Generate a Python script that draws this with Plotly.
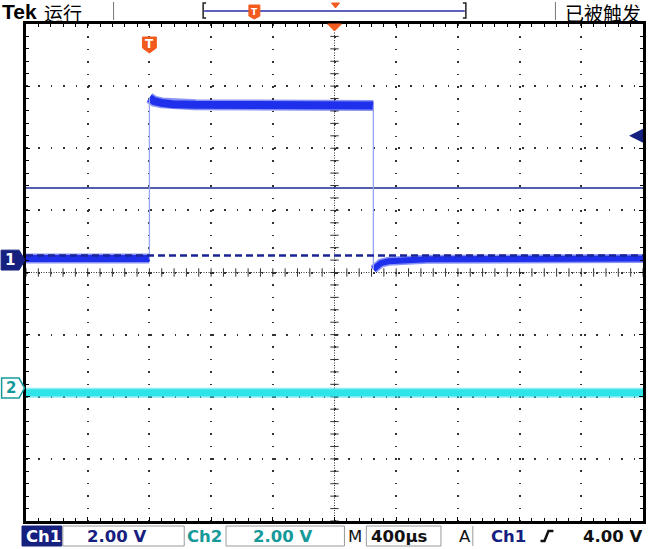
import plotly.graph_objects as go

ch1_scale = 2.0      # V/div
ch2_scale = 2.0      # V/div
ch1_pos = 0.2        # div (ground marker position)
ch2_pos = -1.86      # div
time_per_div = 400   # µs/div
x_range = [-800, 3200]   # µs, trigger at 0
center_time = 1200

ch1_low_left_t = [-800, 0]
ch1_low_left_v = [0.05, 0.05]
ch1_high_t = [0, 30, 80, 150, 300, 1452]
ch1_high_v = [5.22, 5.12, 5.06, 5.02, 5.0, 4.98]
ch1_low_right_t = [1452, 1470, 1500, 1550, 1650, 1800, 3200]
ch1_low_right_v = [-0.3, -0.2, -0.1, -0.04, 0.0, 0.03, 0.05]
ch1_ref_level_v = 0.15     # dashed reference line
ch1_cursor_v = 2.32        # solid horizontal line
trigger_level_v = 4.00

ch2_t = [-800, 3200]
ch2_v = [-0.15, -0.15]

labels = {"ch1": "Ch1", "ch2": "Ch2", "v1": "2.00 V", "v2": "2.00 V",
          "m": "M", "tb": "400µs", "a": "A", "src": "Ch1", "lvl": "4.00 V",
          "tek": "Tek", "run": "运行", "trig": "已被触发"}

# ---------------- helpers ----------------
W, H = 650, 549
L, R, T, B = 26, 4, 24, 28
PW, PH = W - L - R, H - T - B


def X(px):
    return (px - L) / PW


def Y(py):
    return (H - B - py) / PH


def d1(v):
    return ch1_pos + v / ch1_scale


def d2(v):
    return ch2_pos + v / ch2_scale


BLUE = "#1f30ec"
BLUE_SOFT = "rgba(40,60,235,0.55)"
NAVY = "#16207e"
CYAN = "#2ee4e8"
CYAN_SOFT = "rgba(50,225,232,0.55)"
TEAL = "#16999a"
ORANGE = "#f25a1e"

fig = go.Figure()


def thick(t, v, col, soft, w):
    fig.add_trace(go.Scatter(x=t, y=v, mode="lines", line=dict(color=soft, width=w + 3),
                             hoverinfo="skip"))
    fig.add_trace(go.Scatter(x=t, y=v, mode="lines", line=dict(color=col, width=w),
                             hoverinfo="skip"))


# center cross lines with ticks
sub_t = [x_range[0] + i * time_per_div / 5 for i in range(51)]
sub_y = [-4 + i * 0.2 for i in range(41)]
fig.add_trace(go.Scatter(x=sub_t, y=[0] * len(sub_t), mode="markers",
                         marker=dict(symbol="line-ns-open", size=6, color="#333",
                                     line=dict(width=1, color="#333")),
                         hoverinfo="skip"))
fig.add_trace(go.Scatter(x=[center_time] * len(sub_y), y=sub_y, mode="markers",
                         marker=dict(symbol="line-ew-open", size=6, color="#333",
                                     line=dict(width=1, color="#333")),
                         hoverinfo="skip"))

# horizontal reference line
fig.add_trace(go.Scatter(x=x_range, y=[d1(ch1_cursor_v)] * 2, mode="lines",
                         line=dict(color="#1b2a8f", width=1.5), hoverinfo="skip"))

# Ch2
thick(ch2_t, [d2(v) for v in ch2_v], CYAN, CYAN_SOFT, 7)

# Ch1
thick(ch1_low_left_t, [d1(v) for v in ch1_low_left_v], BLUE, BLUE_SOFT, 7)
thick(ch1_high_t, [d1(v) for v in ch1_high_v], BLUE, BLUE_SOFT, 8)
thick(ch1_low_right_t, [d1(v) for v in ch1_low_right_v], BLUE, BLUE_SOFT, 6)
fig.add_trace(go.Scatter(x=[ch1_high_t[0]] * 2, y=[d1(ch1_low_left_v[-1]), d1(ch1_high_v[0])],
                         mode="lines", line=dict(color="#98a2f4", width=1.3), hoverinfo="skip"))
fig.add_trace(go.Scatter(x=[ch1_high_t[-1]] * 2, y=[d1(ch1_high_v[-1]), d1(ch1_low_right_v[0])],
                         mode="lines", line=dict(color="#98a2f4", width=1.3), hoverinfo="skip"))

fig.add_trace(go.Scatter(x=x_range, y=[d1(ch1_ref_level_v)] * 2, mode="lines",
                         line=dict(color="#1a2396", width=2.5, dash="7px,4px"), hoverinfo="skip"))

shapes = []
ann = []

# center dotted lines
shapes.append(dict(type="line", xref="x", yref="paper", x0=center_time, x1=center_time, y0=0, y1=1,
                   line=dict(color="#333", width=1, dash="1px,1.5px"), layer="below"))
shapes.append(dict(type="line", xref="paper", yref="y", x0=0, x1=1, y0=0, y1=0,
                   line=dict(color="#333", width=1, dash="1px,1.5px"), layer="below"))
# thick left border
shapes.append(dict(type="line", xref="paper", yref="paper", x0=X(24.5), x1=X(24.5), y0=Y(522), y1=Y(22),
                   line=dict(color="black", width=3)))

# trigger level arrow (right edge)
ann.append(dict(xref="paper", yref="y", x=X(632), y=d1(trigger_level_v), ax=13, ay=0, text="",
                showarrow=True, arrowhead=2, arrowsize=0.8, arrowwidth=3.5, arrowcolor=NAVY))

# channel markers on the left
y1c = ch1_pos
hh = 0.16
shapes.append(dict(type="path", xref="paper", yref="y",
                   path=f"M {X(1)},{y1c+hh} L {X(19)},{y1c+hh} L {X(25)},{y1c} L {X(19)},{y1c-hh} L {X(1)},{y1c-hh} Z",
                   fillcolor=NAVY, line=dict(color=NAVY, width=1)))
ann.append(dict(xref="paper", yref="y", x=X(10), y=y1c, xanchor="center", yanchor="middle",
                text="<b>1</b>", showarrow=False,
                font=dict(family="DejaVu Sans", size=15, color="white")))
y2c = ch2_pos
shapes.append(dict(type="path", xref="paper", yref="y",
                   path=f"M {X(1.5)},{y2c+hh} L {X(19)},{y2c+hh} L {X(24.5)},{y2c} L {X(19)},{y2c-hh} L {X(1.5)},{y2c-hh} Z",
                   fillcolor="white", line=dict(color=TEAL, width=1.5)))
ann.append(dict(xref="paper", yref="y", x=X(10.5), y=y2c, xanchor="center", yanchor="middle",
                text="<b>2</b>", showarrow=False,
                font=dict(family="DejaVu Sans", size=15, color=TEAL)))

# trigger T marker on graticule
shapes.append(dict(type="path", xref="x", yref="paper",
                   path=f"M {-45},{Y(37)} L {45},{Y(37)} L {45},{Y(48)} L 0,{Y(53)} L {-45},{Y(48)} Z",
                   fillcolor=ORANGE, line=dict(color=ORANGE, width=1)))
ann.append(dict(xref="x", yref="paper", x=0, y=Y(44), xanchor="center", yanchor="middle",
                text="<b>T</b>", showarrow=False,
                font=dict(family="DejaVu Sans", size=12, color="white")))
# expansion point triangle
shapes.append(dict(type="path", xref="x", yref="paper",
                   path=f"M {center_time-45},{Y(24)} L {center_time+45},{Y(24)} L {center_time},{Y(31)} Z",
                   fillcolor=ORANGE, line=dict(color=ORANGE, width=1)))

# ---- top bar ----
ann.append(dict(xref="paper", yref="paper", x=X(0), y=Y(11.5), xanchor="left", yanchor="middle",
                text="<b>" + labels["tek"] + "</b>", showarrow=False,
                font=dict(family="Liberation Sans", size=21, color="black")))
ann.append(dict(xref="paper", yref="paper", x=X(42), y=Y(12), xanchor="left", yanchor="middle",
                text=labels["run"], showarrow=False,
                font=dict(family="Noto Sans CJK SC", size=19, color="black")))
ann.append(dict(xref="paper", yref="paper", x=X(566), y=Y(12), xanchor="left", yanchor="middle",
                text=labels["trig"], showarrow=False,
                font=dict(family="Noto Sans CJK SC", size=19, color="black")))
for sx in (114, 558):
    shapes.append(dict(type="line", xref="paper", yref="paper", x0=X(sx), x1=X(sx), y0=Y(2), y1=Y(20),
                       line=dict(color="#777", width=1)))
# record bar
shapes.append(dict(type="line", xref="paper", yref="paper", x0=X(205), x1=X(467), y0=Y(11), y1=Y(11),
                   line=dict(color="#2a2aa8", width=1.5)))
shapes.append(dict(type="path", xref="paper", yref="paper",
                   path=f"M {X(207)},{Y(3)} L {X(204)},{Y(3)} L {X(204)},{Y(18)} L {X(207)},{Y(18)}",
                   line=dict(color="#222", width=1.5)))
shapes.append(dict(type="path", xref="paper", yref="paper",
                   path=f"M {X(465)},{Y(3)} L {X(468)},{Y(3)} L {X(468)},{Y(18)} L {X(465)},{Y(18)}",
                   line=dict(color="#222", width=1.5)))
shapes.append(dict(type="path", xref="paper", yref="paper",
                   path=f"M {X(250)},{Y(5)} L {X(261)},{Y(5)} L {X(261)},{Y(16)} L {X(255.5)},{Y(19)} L {X(250)},{Y(16)} Z",
                   fillcolor=ORANGE, line=dict(color=ORANGE, width=1)))
ann.append(dict(xref="paper", yref="paper", x=X(255.5), y=Y(11.5), xanchor="center", yanchor="middle",
                text="<b>T</b>", showarrow=False,
                font=dict(family="DejaVu Sans", size=9, color="white")))
shapes.append(dict(type="path", xref="paper", yref="paper",
                   path=f"M {X(333)},{Y(3)} L {X(341)},{Y(3)} L {X(337)},{Y(8)} Z",
                   fillcolor=ORANGE, line=dict(color=ORANGE, width=1)))

# ---- bottom bar ----
yb0, yb1 = 526, 546
shapes.append(dict(type="rect", xref="paper", yref="paper", x0=X(22), x1=X(62), y0=Y(yb1), y1=Y(yb0),
                   fillcolor=NAVY, line=dict(color=NAVY, width=1)))
for bx0, bx1 in ((63, 185), (227, 346), (368, 443)):
    shapes.append(dict(type="rect", xref="paper", yref="paper", x0=X(bx0), x1=X(bx1), y0=Y(yb1), y1=Y(yb0),
                       fillcolor="rgba(0,0,0,0)", line=dict(color="#9a9a9a", width=1)))
shapes.append(dict(type="line", xref="paper", yref="paper", x0=X(475), x1=X(475), y0=Y(yb1), y1=Y(yb0),
                   line=dict(color="#9a9a9a", width=1)))
shapes.append(dict(type="path", xref="paper", yref="paper",
                   path=f"M {X(543)},{Y(541)} L {X(547)},{Y(541)} L {X(551)},{Y(531)} L {X(556)},{Y(531)}",
                   line=dict(color="#111", width=2.5)))

bfont = "DejaVu Sans"
ym = Y(536)
for xx, txt, col in ((24, labels["ch1"], "white"), (85, labels["v1"], NAVY), (186, labels["ch2"], TEAL),
                     (252, labels["v2"], TEAL), (348, labels["m"], "#111"), (371, labels["tb"], "#111"),
                     (459, labels["a"], "#111"), (491, labels["src"], NAVY), (584, labels["lvl"], "#111")):
    ann.append(dict(xref="paper", yref="paper", x=X(xx), y=ym, xanchor="left", yanchor="middle",
                    text="<b>" + txt + "</b>" if txt not in ("M", "A") else txt, showarrow=False,
                    font=dict(family=bfont, size=16.5, color=col)))

axis_common = dict(showticklabels=False, zeroline=False, showline=True, mirror="ticks",
                   linecolor="black", linewidth=2.5, ticks="inside", ticklen=4, tickcolor="black",
                   tickwidth=1, showgrid=True, gridcolor="#333", gridwidth=1.6,
                   griddash="1.6px,10.8px", fixedrange=True)

fig.update_xaxes(range=x_range, dtick=time_per_div, tick0=0,
                 minor=dict(ticks="inside", dtick=time_per_div / 5, ticklen=3, tickcolor="black",
                            showgrid=False), **axis_common)
fig.update_yaxes(range=[-4, 4], dtick=1, tick0=0,
                 minor=dict(ticks="inside", dtick=0.2, ticklen=3, tickcolor="black", showgrid=False),
                 **axis_common)

fig.update_layout(width=W, height=H, autosize=False,
                  margin=dict(l=L, r=R, t=T, b=B, pad=0),
                  plot_bgcolor="white", paper_bgcolor="white", showlegend=False,
                  shapes=shapes, annotations=ann)

fig.write_html("out.html", config={"displayModeBar": False},
               post_script="document.body.style.margin='0px';document.body.style.overflow='hidden';")
